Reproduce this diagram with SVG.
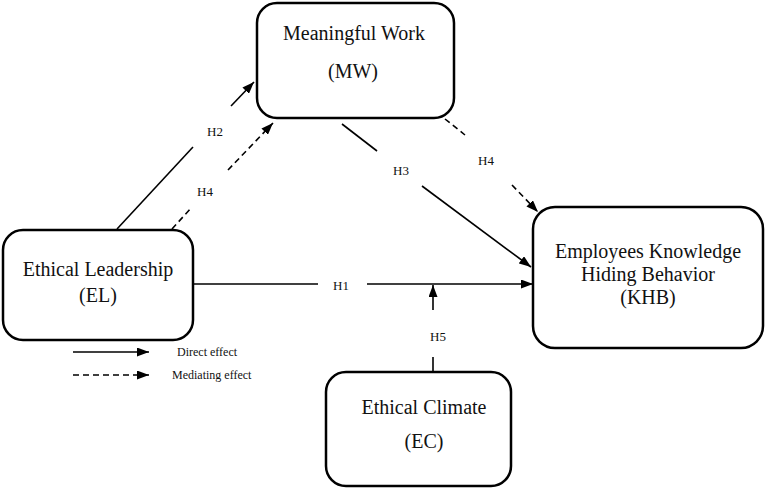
<svg xmlns="http://www.w3.org/2000/svg" width="765" height="490" viewBox="0 0 765 490">
<style>
.box{fill:#fff;stroke:#000;stroke-width:2.5}
.nt{font-family:"Liberation Serif","Times New Roman",serif;font-size:20px;fill:#111;text-anchor:middle}
.lb{font-family:"Liberation Serif","Times New Roman",serif;font-size:13px;fill:#111;text-anchor:middle}
.lg{font-family:"Liberation Serif","Times New Roman",serif;font-size:12px;fill:#111}
.ln{fill:none;stroke:#000;stroke-width:1.6}
.da{stroke-dasharray:6,4}
</style>
<defs>
<marker id="ah" viewBox="0 0 12 9" refX="12" refY="4.5" markerWidth="12" markerHeight="9" markerUnits="userSpaceOnUse" orient="auto">
<path d="M0,0 L12,4.5 L0,9 Z" fill="#000"/>
</marker>
</defs>
<rect width="765" height="490" fill="#fff"/>
<g id="connectors">
<line class="ln" x1="194" y1="284" x2="318" y2="284"/>
<line class="ln" x1="367" y1="284" x2="533" y2="284" marker-end="url(#ah)"/>
<text class="lb" x="341" y="290">H1</text>
<line class="ln" x1="433" y1="372" x2="433" y2="357"/>
<line class="ln" x1="433" y1="310" x2="433" y2="285" marker-end="url(#ah)"/>
<text class="lb" x="438" y="341">H5</text>
<line class="ln" x1="117" y1="229" x2="193" y2="147"/>
<line class="ln" x1="231" y1="106" x2="254" y2="82" marker-end="url(#ah)"/>
<text class="lb" x="215" y="136">H2</text>
<line class="ln da" x1="172" y1="229" x2="192" y2="207"/>
<line class="ln da" x1="228" y1="170" x2="273" y2="123" marker-end="url(#ah)"/>
<text class="lb" x="205" y="196">H4</text>
<line class="ln" x1="342" y1="124" x2="377" y2="151"/>
<line class="ln" x1="422" y1="186" x2="531" y2="267" marker-end="url(#ah)"/>
<text class="lb" x="401" y="175">H3</text>
<line class="ln da" x1="445" y1="119" x2="465" y2="135"/>
<line class="ln da" x1="512" y1="185" x2="538" y2="212" marker-end="url(#ah)"/>
<text class="lb" x="486" y="165">H4</text>
</g>
<g id="node-mw">
<rect class="box" x="257" y="3" width="197" height="115" rx="20"/>
<text class="nt" x="354" y="40">Meaningful Work</text>
<text class="nt" x="353" y="78">(MW)</text>
</g>
<g id="node-el">
<rect class="box" x="3" y="230" width="190" height="110" rx="20"/>
<text class="nt" x="98" y="276">Ethical Leadership</text>
<text class="nt" x="98" y="302">(EL)</text>
</g>
<g id="node-khb">
<rect class="box" x="533" y="207" width="230" height="141" rx="22"/>
<text class="nt" x="648" y="258">Employees Knowledge</text>
<text class="nt" x="648" y="281">Hiding Behavior</text>
<text class="nt" x="648" y="304">(KHB)</text>
</g>
<g id="node-ec">
<rect class="box" x="326" y="372" width="185" height="114" rx="20"/>
<text class="nt" x="424" y="414">Ethical Climate</text>
<text class="nt" x="424" y="448">(EC)</text>
</g>
<g id="legend">
<line class="ln" x1="73" y1="352" x2="149" y2="352" marker-end="url(#ah)"/>
<text class="lg" x="177" y="356">Direct effect</text>
<line class="ln da" x1="73" y1="375" x2="149" y2="375" marker-end="url(#ah)"/>
<text class="lg" x="172" y="379">Mediating effect</text>
</g>
</svg>
